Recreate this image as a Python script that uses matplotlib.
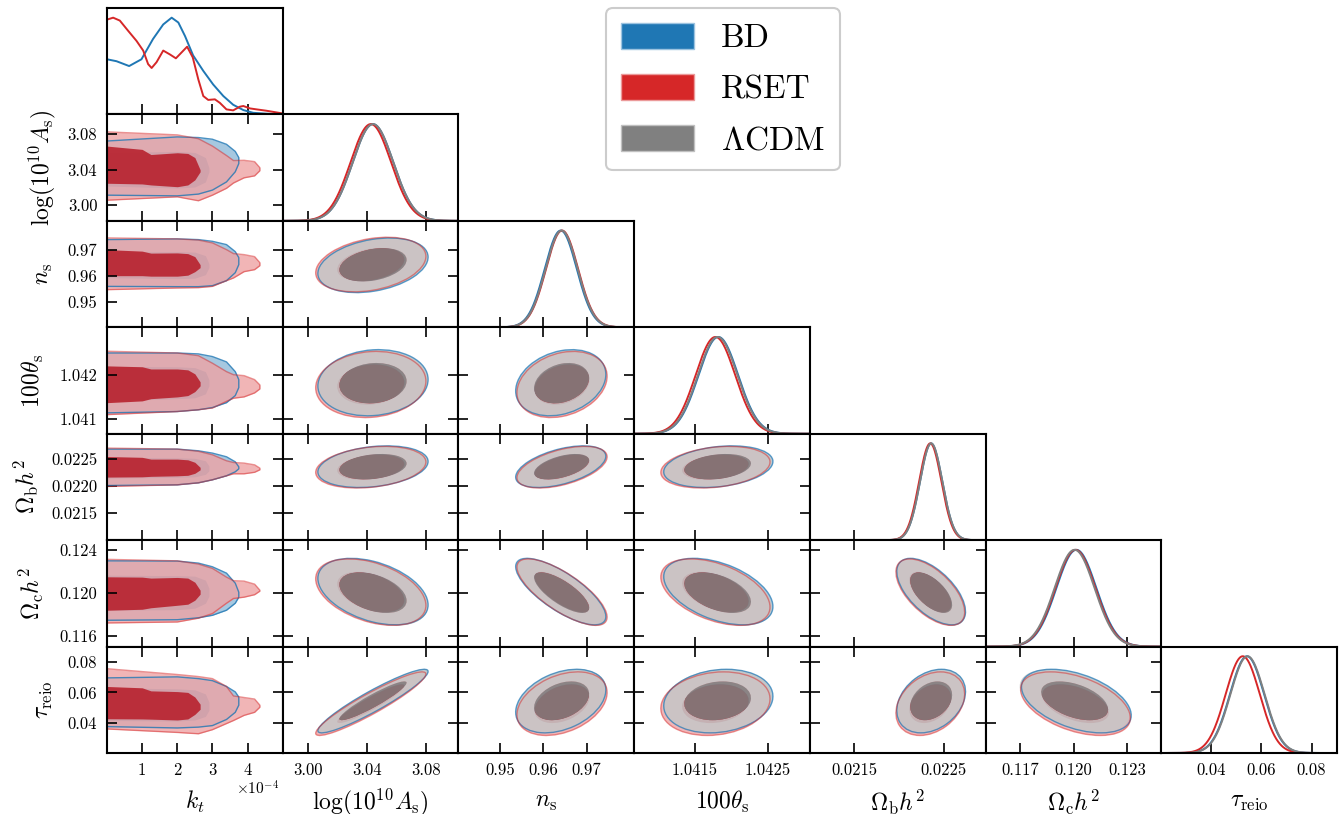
import numpy as np
import matplotlib.pyplot as plt
from matplotlib.patches import Ellipse, Patch, PathPatch
from matplotlib.path import Path

plt.rcParams['font.family'] = 'serif'
plt.rcParams['font.serif'] = ['cmr10']
plt.rcParams['mathtext.fontset'] = 'cm'
plt.rcParams['axes.formatter.use_mathtext'] = True

# ---------------- data ----------------
labels = [r'$k_t$', r'$\log(10^{10}A_{\rm s})$', r'$n_{\rm s}$', r'$100\theta_{\rm s}$',
          r'$\Omega_{\rm b}h^2$', r'$\Omega_{\rm c}h^2$', r'$\tau_{\rm reio}$']
lo = [0.0, 2.9825, 0.9403, 1.04067, 0.02100, 0.11505, 0.0202]
hi = [5.0, 3.1022, 0.9810, 1.04307, 0.02297, 0.12492, 0.0901]

xticks = [[1, 2, 3, 4], [3.00, 3.04, 3.08], [0.95, 0.96, 0.97], [1.0415, 1.0425],
          [0.0215, 0.0225], [0.117, 0.120, 0.123], [0.04, 0.06, 0.08]]
xticklabels = [['1', '2', '3', '4'], ['3.00', '3.04', '3.08'], ['0.95', '0.96', '0.97'],
               ['1.0415', '1.0425'], ['0.0215', '0.0225'], ['0.117', '0.120', '0.123'],
               ['0.04', '0.06', '0.08']]
yticks = [[], [3.00, 3.04, 3.08], [0.95, 0.96, 0.97], [1.041, 1.042],
          [0.0215, 0.0220, 0.0225], [0.116, 0.120, 0.124], [0.04, 0.06, 0.08]]
yticklabels = [[], ['3.00', '3.04', '3.08'], ['0.95', '0.96', '0.97'], ['1.041', '1.042'],
               ['0.0215', '0.0220', '0.0225'], ['0.116', '0.120', '0.124'], ['0.04', '0.06', '0.08']]

# gaussian-like parameters: logA, ns, 100theta, ombh2, omch2, tau
mean_bd = [3.0440, 0.9640, 1.04182, 0.02236, 0.12015, 0.0543]
mean_rset = [3.0425, 0.9643, 1.04178, 0.02235, 0.12010, 0.0526]
mean_lcdm = [3.0440, 0.9642, 1.04181, 0.02236, 0.12005, 0.0545]
sig_1d = [0.0138, 0.0037, 0.00027, 0.000125, 0.00112, 0.0068]
sig_2d = [0.0151, 0.0042, 0.00030, 0.000155, 0.00124, 0.0084]
corr = [[1.00, 0.30, 0.10, 0.25, -0.40, 0.93],
        [0.30, 1.00, 0.25, 0.50, -0.75, 0.35],
        [0.10, 0.25, 1.00, 0.25, -0.45, 0.15],
        [0.25, 0.50, 0.25, 1.00, -0.60, 0.30],
        [-0.40, -0.75, -0.45, -0.60, 1.00, -0.45],
        [0.93, 0.35, 0.15, 0.30, -0.45, 1.00]]

# k_t marginal (units of 1e-4)
kt_bd = [0, 0.27, 0.63, 0.98, 1.31, 1.60, 1.84, 2.03, 2.22, 2.45, 2.74, 3.02, 3.31, 3.59,
         3.88, 4.16, 4.54, 5.0]
p_bd = [0.57, 0.55, 0.50, 0.57, 0.78, 0.93, 1.00, 0.95, 0.81, 0.61, 0.45, 0.31, 0.19, 0.10,
        0.045, 0.017, 0.007, 0.0]
kt_rs = [0, 0.175, 0.365, 0.60, 0.84, 1.03, 1.17, 1.27, 1.41, 1.60, 1.79, 1.96, 2.12, 2.28,
         2.44, 2.60, 2.74, 2.88, 3.07, 3.21, 3.40, 3.59, 3.78, 3.88, 4.07, 4.26, 4.54, 5.0]
p_rs = [0.98, 1.00, 0.97, 0.865, 0.76, 0.66, 0.52, 0.48, 0.54, 0.66, 0.62, 0.58, 0.64, 0.70,
        0.59, 0.36, 0.19, 0.15, 0.156, 0.12, 0.052, 0.042, 0.080, 0.087, 0.062, 0.052, 0.038, 0.01]

# k_t column contours: k grids and upper/lower bounds per row (logA .. tau)
k_bd95 = [0, 2, 2.6, 3.0, 3.4, 3.65, 3.75]
k_rs95 = [0, 2, 2.6, 3.0, 3.4, 3.6, 3.9, 4.2, 4.35]
k_rs68 = [0, 1, 1.25, 2, 2.3, 2.5, 2.65]
k_bd68 = [0, 2, 2.5, 2.8, 2.9]

bd95_hi = [[3.0723, 3.0769, 3.0762, 3.0743, 3.0686, 3.0606, 3.0537],
           [0.97383, 0.97410, 0.97383, 0.97318, 0.97192, 0.96923, 0.96694],
           [1.04249, 1.04249, 1.04247, 1.04241, 1.04229, 1.04207, 1.04189],
           [0.022685, 0.022685, 0.022654, 0.022611, 0.022543, 0.022450, 0.022357],
           [0.12300, 0.12298, 0.12279, 0.12245, 0.12186, 0.12093, 0.12009],
           [0.06953, 0.07020, 0.06906, 0.06772, 0.06390, 0.06034, 0.05698]]
bd95_lo = [[3.0114, 3.0106, 3.0126, 3.0171, 3.0263, 3.0377, 3.0469],
           [0.95594, 0.95583, 0.95583, 0.95621, 0.95813, 0.96119, 0.96426],
           [1.04114, 1.04117, 1.04121, 1.04126, 1.04137, 1.04153, 1.04171],
           [0.022011, 0.022024, 0.022061, 0.022117, 0.022191, 0.022265, 0.022320],
           [0.11749, 0.11754, 0.11772, 0.11795, 0.11842, 0.11907, 0.11963],
           [0.03753, 0.03665, 0.03719, 0.03820, 0.04222, 0.04692, 0.05162]]
rs95_hi = [[3.0826, 3.0792, 3.0749, 3.0666, 3.0560, 3.0503, 3.0506, 3.0491, 3.0423],
           [0.97448, 0.97410, 0.97364, 0.97257, 0.97000, 0.96847, 0.96809, 0.96732, 0.96502],
           [1.04253, 1.04249, 1.04243, 1.04226, 1.04207, 1.04200, 1.04198, 1.04189, 1.04177],
           [0.022704, 0.022685, 0.022644, 0.022580, 0.022469, 0.022437, 0.022426, 0.022394, 0.022333],
           [0.12314, 0.12300, 0.12270, 0.12230, 0.12149, 0.12116, 0.12112, 0.12084, 0.12028],
           [0.07557, 0.07175, 0.07040, 0.06906, 0.06390, 0.05766, 0.05665, 0.05564, 0.05162]]
rs95_lo = [[3.0057, 3.0095, 3.0051, 3.0114, 3.0191, 3.0251, 3.0309, 3.0331, 3.0389],
           [0.95468, 0.95533, 0.95545, 0.95594, 0.95813, 0.95916, 0.96157, 0.96234, 0.96387],
           [1.04110, 1.04117, 1.04121, 1.04125, 1.04140, 1.04147, 1.04150, 1.04159, 1.04168],
           [0.021993, 0.022024, 0.022061, 0.022117, 0.022191, 0.022228, 0.022228, 0.022256, 0.022302],
           [0.11724, 0.11733, 0.11768, 0.11811, 0.11907, 0.11951, 0.11963, 0.11986, 0.12019],
           [0.03598, 0.03370, 0.03283, 0.03551, 0.03954, 0.04155, 0.04491, 0.04692, 0.05027]]
rs68_hi = [[3.0666, 3.0629, 3.0571, 3.0591, 3.0583, 3.0537, 3.0400],
           [0.97000, 0.96943, 0.96866, 0.96874, 0.96847, 0.96732, 0.96426],
           [1.04220, 1.04218, 1.04213, 1.04213, 1.04211, 1.04202, 1.04184],
           [0.022548, 0.022533, 0.022500, 0.022500, 0.022487, 0.022441, 0.022348],
           [0.12152, 0.12149, 0.12140, 0.12146, 0.12140, 0.12102, 0.12028],
           [0.06390, 0.06302, 0.06101, 0.06054, 0.06000, 0.05698, 0.05229]]
rs68_lo = [[3.0248, 3.0240, 3.0229, 3.0209, 3.0229, 3.0286, 3.0377],
           [0.96004, 0.96004, 0.95985, 0.95985, 0.96023, 0.96157, 0.96311],
           [1.04137, 1.04141, 1.04146, 1.04150, 1.04153, 1.04162, 1.04175],
           [0.022167, 0.022172, 0.022181, 0.022191, 0.022200, 0.022237, 0.022302],
           [0.11842, 0.11851, 0.11865, 0.11888, 0.11898, 0.11935, 0.11991],
           [0.04269, 0.04256, 0.04242, 0.04189, 0.04256, 0.04558, 0.04893]]
bd68_hi = [[3.0594, 3.0606, 3.0594, 3.0537, 3.0423],
           [0.96912, 0.96923, 0.96904, 0.96770, 0.96464],
           [1.04219, 1.04218, 1.04216, 1.04207, 1.04189],
           [0.022537, 0.022524, 0.022515, 0.022469, 0.022376],
           [0.12167, 0.12163, 0.12158, 0.12121, 0.12047],
           [0.06302, 0.06235, 0.06168, 0.05900, 0.05363]]
bd68_lo = [[3.0217, 3.0194, 3.0206, 3.0263, 3.0377],
           [0.95928, 0.95889, 0.95908, 0.96043, 0.96311],
           [1.04141, 1.04146, 1.04148, 1.04157, 1.04175],
           [0.022148, 0.022163, 0.022172, 0.022218, 0.022283],
           [0.11842, 0.11847, 0.11861, 0.11907, 0.11972],
           [0.04155, 0.04122, 0.04189, 0.04424, 0.04826]]

# ---------------- styles ----------------
c_bd, c_rs, c_lc = '#1f77b4', '#d62728', '#808080'
bd_fill = ['#a6c8e0', '#5f9fcb']
rs_fill = ['#eea3a4', '#b8222e']
lc_fill = ['#c8c8c8', '#7f7f7f']
R95, R68 = 2.486, 1.517
ylabel_x = [0, 42, 44, 33, 26, 31, 44]   # pixel centre of each row's y label


def fill_kt(ax, k, up, dn, color, alpha):
    ax.fill_between(k, dn, up, color=color, alpha=alpha, lw=0)


def ellipse_shape(mean, p, q):
    sx, sy = sig_2d[p], sig_2d[q]
    rho = corr[p][q]
    cov = np.array([[sx * sx, rho * sx * sy], [rho * sx * sy, sy * sy]])
    vals, vecs = np.linalg.eigh(cov)
    ang = np.degrees(np.arctan2(vecs[1, 1], vecs[0, 1]))
    return (mean[p], mean[q]), np.sqrt(vals[1]), np.sqrt(vals[0]), ang


def filled_contours(ax, mean, p, q, fills, alphas):
    c, w, h, ang = ellipse_shape(mean, p, q)
    inv = ax.transData.inverted()
    e95 = Ellipse(c, 2 * R95 * w, 2 * R95 * h, angle=ang, transform=ax.transData)
    e68 = Ellipse(c, 2 * R68 * w, 2 * R68 * h, angle=ang, transform=ax.transData)
    v95 = inv.transform(e95.get_verts())
    v68 = inv.transform(e68.get_verts())
    ring = Path.make_compound_path(Path(v95), Path(v68[::-1]))
    ax.add_patch(PathPatch(ring, facecolor=fills[0], alpha=alphas[0], lw=0))
    ax.add_patch(Ellipse(c, 2 * R68 * w, 2 * R68 * h, angle=ang,
                         facecolor=fills[1], alpha=alphas[1], lw=0))


def contour_edge(ax, mean, p, q, color, alpha):
    c, w, h, ang = ellipse_shape(mean, p, q)
    ax.add_patch(Ellipse(c, 2 * R95 * w, 2 * R95 * h, angle=ang, fill=False,
                         edgecolor=color, lw=1.0, alpha=alpha))


W, H = 1340, 814
x0, y0 = 107, 8
cw, rh = 1230 / 7, 745 / 7

fig = plt.figure(figsize=(13.4, 8.14), dpi=100)

for i in range(7):
    for j in range(i + 1):
        ax = fig.add_axes([(x0 + j * cw) / W, 1 - (y0 + (i + 1) * rh) / H, cw / W, rh / H])
        ax.set_xlim(lo[j], hi[j])
        if i == j:
            ax.set_ylim(0, 1.1)
            if j == 0:
                ax.plot(kt_bd, p_bd, color=c_bd, lw=1.4)
                ax.plot(kt_rs, p_rs, color=c_rs, lw=1.4)
            else:
                p = j - 1
                x = np.linspace(lo[j], hi[j], 400)
                for mu, col in [(mean_bd, c_bd), (mean_rset, c_rs), (mean_lcdm, c_lc)]:
                    ax.plot(x, np.exp(-0.5 * ((x - mu[p]) / sig_1d[p]) ** 2), color=col, lw=1.4)
            ax.set_yticks([])
        else:
            ax.set_ylim(lo[i], hi[i])
            if j == 0:
                r = i - 1
                fill_kt(ax, k_bd95, bd95_hi[r], bd95_lo[r], bd_fill[0], 1.0)
                fill_kt(ax, k_bd68, bd68_hi[r], bd68_lo[r], bd_fill[1], 1.0)
                fill_kt(ax, k_rs95, rs95_hi[r], rs95_lo[r], rs_fill[0], 0.8)
                fill_kt(ax, k_rs68, rs68_hi[r], rs68_lo[r], rs_fill[1], 0.9)
                ax.plot(k_bd95 + k_bd95[::-1], bd95_hi[r] + bd95_lo[r][::-1], color=c_bd, lw=1.0, alpha=0.8)
                ax.plot(k_rs95 + k_rs95[::-1], rs95_hi[r] + rs95_lo[r][::-1], color=c_rs, lw=1.0, alpha=0.5)
            else:
                p, q = j - 1, i - 1
                filled_contours(ax, mean_bd, p, q, bd_fill, [1.0, 1.0])
                filled_contours(ax, mean_rset, p, q, rs_fill, [0.8, 0.9])
                filled_contours(ax, mean_lcdm, p, q, lc_fill, [0.85, 0.85])
                contour_edge(ax, mean_bd, p, q, c_bd, 0.7)
                contour_edge(ax, mean_rset, p, q, c_rs, 0.5)
            ax.set_yticks(yticks[i])
            ax.set_yticklabels(yticklabels[i])
        ax.set_xticks(xticks[j])
        ax.set_xticklabels(xticklabels[j])
        off = (i != j)
        ax.tick_params(direction='in', length=7, width=1.2, top=off, bottom=True,
                       left=off, right=off, labelbottom=(i == 6),
                       labelleft=(j == 0 and i > 0), labelsize=12, pad=7)
        for s in ax.spines.values():
            s.set_linewidth(1.5)
        if i == 6:
            ax.set_xlabel(labels[j], fontsize=17)
            ax.xaxis.set_label_coords(0.5, -(802 - 753) / rh)
            ax.xaxis.label.set_va('center')
        if j == 0 and i > 0:
            ax.set_ylabel(labels[i], fontsize=17)
            ax.yaxis.set_label_coords(-(107 - ylabel_x[i]) / cw, 0.5)
            ax.yaxis.label.set_va('center')

fig.text(258 / W, 1 - 789 / H, r'$\times10^{-4}$', fontsize=11, ha='center', va='center')

handles = [Patch(facecolor=c_bd, edgecolor='#9cc3e0'),
           Patch(facecolor=c_rs, edgecolor='#eb9a9a'),
           Patch(facecolor=c_lc, edgecolor='#c0c0c0')]
leg = fig.legend(handles, ['BD', 'RSET', r'$\Lambda$CDM'], loc='upper left',
                 bbox_to_anchor=(606 / W, 1 - 8 / H), borderaxespad=0, fontsize=24,
                 handlelength=2.2, handleheight=0.8, handletextpad=0.8, labelspacing=0.62,
                 borderpad=0.45, frameon=True, fancybox=True, edgecolor='#cccccc', framealpha=1)
leg.get_frame().set_linewidth(1.5)

fig.savefig('out.png', dpi=100)
